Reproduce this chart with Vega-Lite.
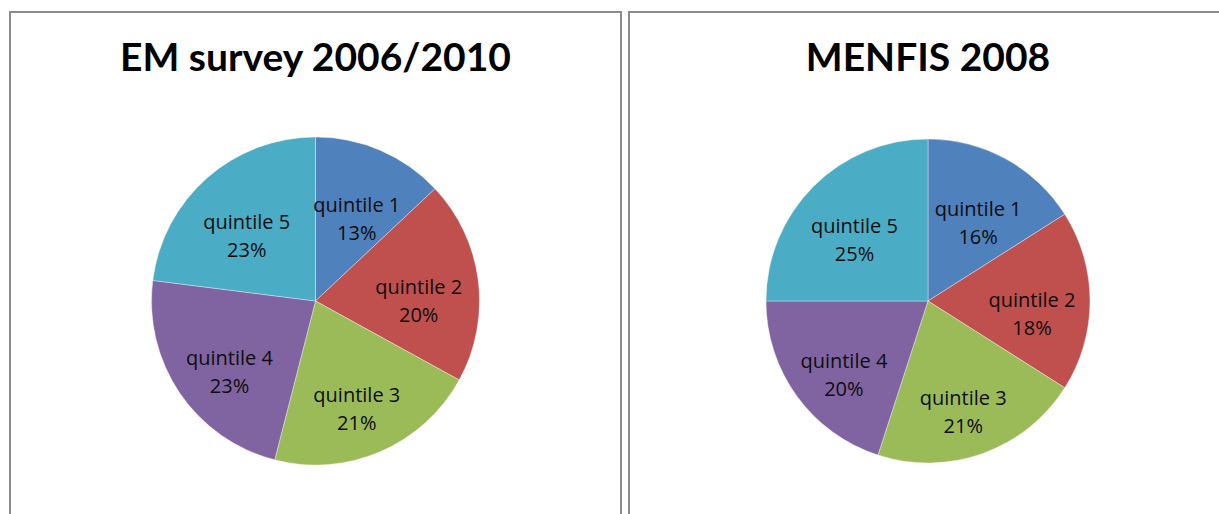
{
  "$schema": "https://vega.github.io/schema/vega-lite/v6.json",
  "padding": {"left": 9, "top": 11, "right": 0, "bottom": 0},
  "background": "white",
  "spacing": 6,
  "datasets": {
    "em": [
      {"q": 1, "quintile": "quintile 1", "pct": 13, "label": "quintile 1\n13%"},
      {"q": 2, "quintile": "quintile 2", "pct": 20, "label": "quintile 2\n20%"},
      {"q": 3, "quintile": "quintile 3", "pct": 21, "label": "quintile 3\n21%"},
      {"q": 4, "quintile": "quintile 4", "pct": 23, "label": "quintile 4\n23%"},
      {"q": 5, "quintile": "quintile 5", "pct": 23, "label": "quintile 5\n23%"}
    ],
    "menfis": [
      {"q": 1, "quintile": "quintile 1", "pct": 16, "label": "quintile 1\n16%"},
      {"q": 2, "quintile": "quintile 2", "pct": 18, "label": "quintile 2\n18%"},
      {"q": 3, "quintile": "quintile 3", "pct": 21, "label": "quintile 3\n21%"},
      {"q": 4, "quintile": "quintile 4", "pct": 20, "label": "quintile 4\n20%"},
      {"q": 5, "quintile": "quintile 5", "pct": 25, "label": "quintile 5\n25%"}
    ]
  },
  "config": {
    "view": {"stroke": "#8c8c8c", "strokeWidth": 2},
    "title": {"font": "Lato", "fontSize": 39, "fontWeight": "bold", "color": "black", "anchor": "middle", "baseline": "alphabetic", "offset": -67}
  },
  "hconcat": [
    {
      "width": 611,
      "height": 578,
      "view": {"stroke": "#8c8c8c", "strokeWidth": 2, "fill": "white"},
      "title": {"text": "EM survey 2006/2010"},
      "data": {"name": "em"},
      "encoding": {
        "theta": {"field": "pct", "type": "quantitative", "stack": true},
        "order": {"field": "q", "type": "quantitative"}
      },
      "layer": [
        {
          "mark": {"type": "arc", "outerRadius": 164, "stroke": "white", "strokeWidth": 0.6, "strokeOpacity": 0.6},
          "encoding": {
            "color": {"field": "quintile", "type": "nominal", "legend": null,
              "scale": {"domain": ["quintile 1", "quintile 2", "quintile 3", "quintile 4", "quintile 5"],
                        "range": ["#4F81BD", "#C0504D", "#9BBB59", "#8064A2", "#4BACC6"]}}
          }
        },
        {
          "mark": {"type": "text", "radius": 104, "font": "Open Sans", "fontSize": 20, "lineBreak": "\n", "lineHeight": 28, "color": "#0d0d0d", "baseline": "middle"},
          "encoding": {"text": {"field": "label", "type": "nominal"}}
        }
      ]
    },
    {
      "width": 598,
      "height": 578,
      "view": {"stroke": "#8c8c8c", "strokeWidth": 2, "fill": "white"},
      "title": {"text": "MENFIS 2008"},
      "data": {"name": "menfis"},
      "encoding": {
        "theta": {"field": "pct", "type": "quantitative", "stack": true},
        "order": {"field": "q", "type": "quantitative"}
      },
      "layer": [
        {
          "mark": {"type": "arc", "outerRadius": 162, "stroke": "white", "strokeWidth": 0.6, "strokeOpacity": 0.6},
          "encoding": {
            "color": {"field": "quintile", "type": "nominal", "legend": null,
              "scale": {"domain": ["quintile 1", "quintile 2", "quintile 3", "quintile 4", "quintile 5"],
                        "range": ["#4F81BD", "#C0504D", "#9BBB59", "#8064A2", "#4BACC6"]}}
          }
        },
        {
          "mark": {"type": "text", "radius": 104, "font": "Open Sans", "fontSize": 20, "lineBreak": "\n", "lineHeight": 28, "color": "#0d0d0d", "baseline": "middle"},
          "encoding": {"text": {"field": "label", "type": "nominal"}}
        }
      ]
    }
  ],
  "resolve": {"scale": {"color": "independent", "theta": "independent"}}
}
